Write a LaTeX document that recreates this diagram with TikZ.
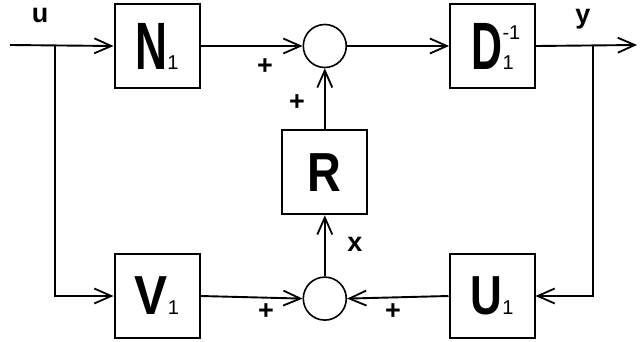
\documentclass[tikz,border=0pt]{standalone}
\usepackage{fontspec}
\setmainfont{Liberation Sans}
\usepackage{graphicx}
\usetikzlibrary{positioning, arrows.meta}

\newcommand{\blk}[3]{\scalebox{#1}[1]{\fontsize{#2}{#2}\selectfont\bfseries #3}}
\newcommand{\idx}[1]{{\fontsize{20}{20}\selectfont #1}}

\begin{document}
\begin{tikzpicture}[
        x=1pt, y=-1pt,
        node distance=61pt and 102pt,
        block/.style={rectangle, draw, line width=2pt, minimum width=85pt, minimum height=84pt, inner sep=0pt},
        sumnode/.style={circle, draw, line width=1.6pt, minimum size=43pt, inner sep=0pt},
        arrow/.style={-{Straight Barb[length=17pt, width=15pt, line width=1.8pt]}, line width=1.9pt},
        labelstyle/.style={font=\fontsize{27}{27}\selectfont\bfseries, inner sep=1pt}
    ]
        \useasboundingbox (0,0) rectangle (643,342);
        % forward path
        \node (N) [block] at (157,46) {\blk{0.66}{67}{N}\idx{1}};
        \node (sumtop) [sumnode, right=of N] {};
        \node (D) [block, right=of sumtop] {\blk{0.64}{67}{D}\rlap{\raisebox{30pt}{\idx{-1}}}\idx{1}};
        % middle and feedback path
        \node (R) [block, below=of sumtop] {\blk{0.85}{55}{R}};
        \node (sumbot) [sumnode, below=of R] {};
        \node (V) [block] at (157,296) {\blk{0.9}{55}{V}\idx{1}};
        \node (U) [block] at (492,296) {\blk{0.8}{55}{U}\idx{1}};
        \coordinate (in) at (10,45);
        \coordinate (out) at (637,45);
        \coordinate (ubr) at (55,45);
        \coordinate (ybr) at (593,45);
        % connectors
        \draw [arrow] (in) -- (N.west);
        \draw [arrow] (N.east) -- (sumtop.west);
        \draw [arrow] (sumtop.east) -- (D.west);
        \draw [arrow] (D.east) -- (out);
        \draw [arrow] (ubr) |- (V.west);
        \draw [arrow] (ybr) |- (U.east);
        \draw [arrow] (V.east) -- (sumbot.west);
        \draw [arrow] (U.west) -- (sumbot.east);
        \draw [arrow] (sumbot.north) -- (R.south);
        \draw [arrow] (R.north) -- (sumtop.south);
        % signal names and signs
        \node (ulbl) [labelstyle] at (40,16) {u};
        \node (ylbl) [labelstyle] at (583,19) {y};
        \node (xlbl) [labelstyle] at (355,244) {x};
        \node (p1) [labelstyle] at (265,67) {+};
        \node (p2) [labelstyle] at (297,103) {+};
        \node (p3) [labelstyle] at (266,312) {+};
        \node (p4) [labelstyle] at (393,312) {+};
    \end{tikzpicture}
\end{document}
